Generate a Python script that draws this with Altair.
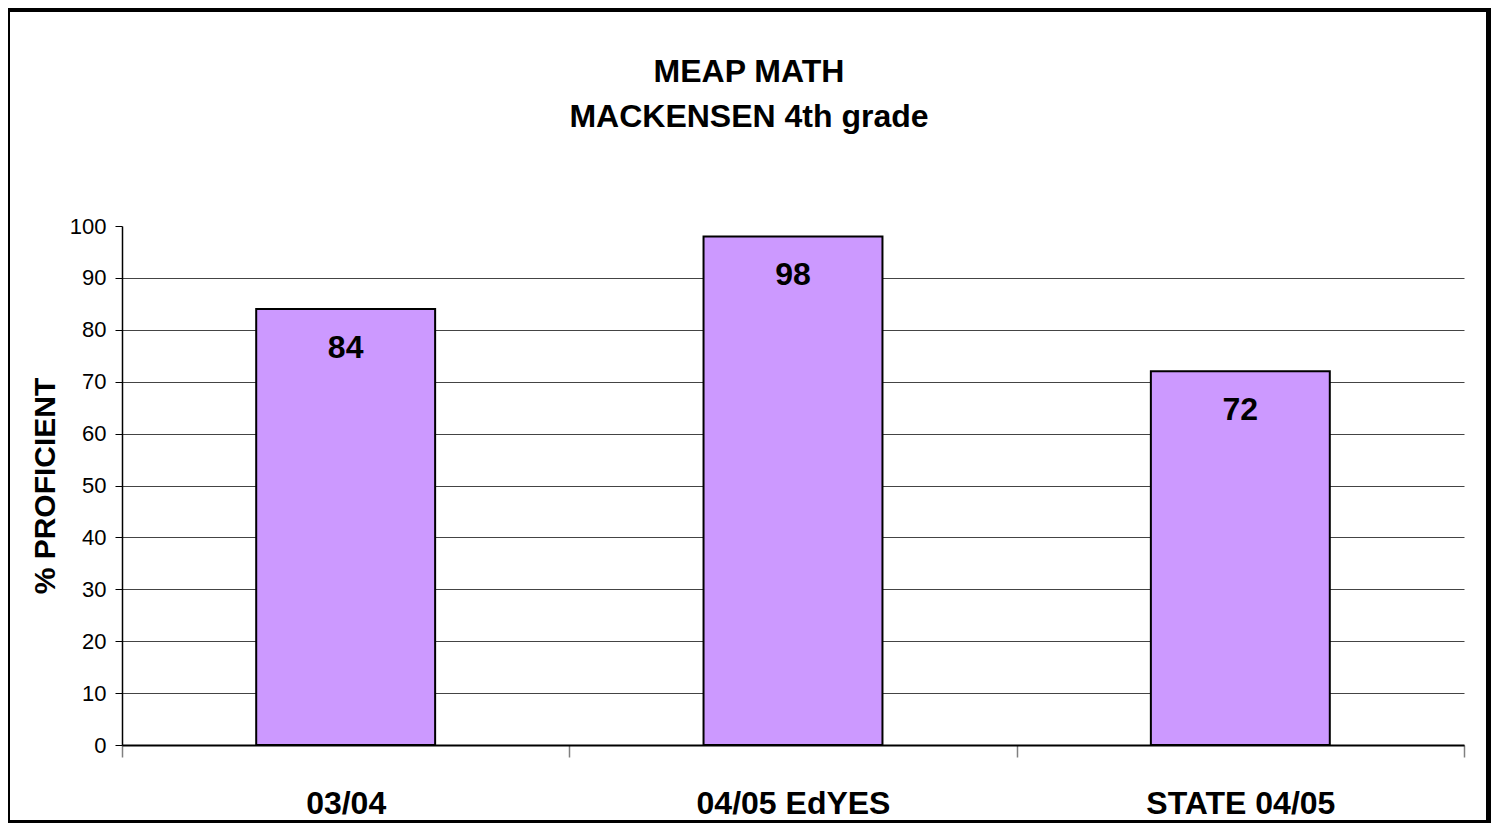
import altair as alt
import pandas as pd

categories = ["03/04", "04/05 EdYES", "STATE 04/05"]
values = [84, 98, 72]
y_ticks = [0, 10, 20, 30, 40, 50, 60, 70, 80, 90, 100]
title_lines = ["MEAP MATH", "MACKENSEN 4th grade"]

df = pd.DataFrame({"period": categories, "pct": values})
FONT = "Liberation Sans"

base = alt.Chart(df).encode(
    x=alt.X(
        "period:N",
        sort=categories,
        scale=alt.Scale(paddingInner=0, paddingOuter=0),
        axis=alt.Axis(
            title=None,
            labelAngle=0,
            labelFont=FONT,
            labelFontSize=32,
            labelFontWeight="bold",
            labelColor="black",
            labelPadding=31,
            labelLimit=0,
            tickBand="extent",
            tickSize=12,
            tickColor="#808080",
            tickWidth=1.5,
            domainColor="black",
            domainWidth=2,
            grid=False,
        ),
    ),
    y=alt.Y(
        "pct:Q",
        scale=alt.Scale(domain=[0, 100], nice=False),
        axis=alt.Axis(
            title="% PROFICIENT",
            values=y_ticks,
            titleFont=FONT,
            titleFontSize=30,
            titleFontWeight="bold",
            titleColor="black",
            titleAngle=270,
            titleAlign="center",
            titleBaseline="middle",
            titleX=-77,
            titleY=259.5,
            labelFont=FONT,
            labelFontSize=22,
            labelColor="black",
            labelPadding=9,
            tickSize=7,
            tickColor="black",
            tickWidth=1,
            domainColor="black",
            domainWidth=1.5,
            grid=True,
            gridColor="#444444",
            gridWidth=1,
            gridOpacity=alt.ExprRef(expr="datum.value >= 100 ? 0 : 1"),
        ),
    ),
)

bars = base.mark_bar(
    color="#CC99FF", stroke="black", strokeWidth=2,
    width=alt.RelativeBandSize(0.4),
)
labels = base.mark_text(
    font=FONT, fontSize=32, fontWeight="bold", color="black",
    baseline="middle", align="center", dy=39,
).encode(text=alt.Text("pct:Q"))

one = pd.DataFrame({"f": [0]})

title = alt.Chart(one).mark_text(
    text=title_lines, font=FONT, fontSize=32, fontWeight="bold", color="black",
    align="center", baseline="alphabetic", lineHeight=45,
).encode(x=alt.value(627), y=alt.value(-144))

frame = alt.Chart(one).mark_rect(
    filled=False, stroke="black", strokeWidth=6
).encode(
    x=alt.value(-115), x2=alt.value(1367),
    y=alt.value(-217), y2=alt.value(597),
)

chart = alt.layer(bars, labels, title, frame).properties(
    width=1342,
    height=519,
    autosize=alt.AutoSizeParams(type="none"),
    padding={"left": 114, "top": 218, "right": 27, "bottom": 78},
    background="white",
).configure_view(stroke=None)

chart.save("out.html", embed_options={"renderer": "svg", "actions": False})
